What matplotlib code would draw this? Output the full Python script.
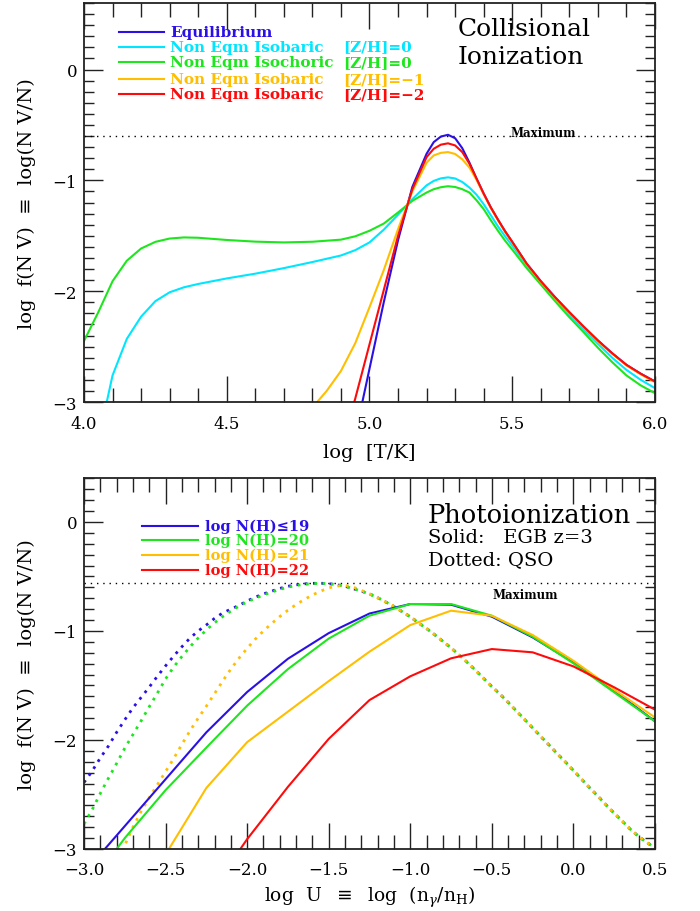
#!/usr/bin/env python3
"""
N V ionization fraction: collisional (top) and photoionization (bottom) panels.
"""

import matplotlib
matplotlib.use("Agg")
import matplotlib.pyplot as plt
import matplotlib.ticker as mticker
import numpy as np

# --------------------------------------------------------------------------- #
# Data: collisional ionization, log f(N V) vs log T
# --------------------------------------------------------------------------- #

LOGT_FULL = [4.00, 4.05, 4.10, 4.15, 4.20, 4.25, 4.30, 4.35, 4.40, 4.50,
             4.60, 4.70, 4.80, 4.90, 4.95, 5.00, 5.05, 5.10, 5.15, 5.20,
             5.225, 5.25, 5.275, 5.30, 5.325, 5.35, 5.375, 5.40, 5.425, 5.45,
             5.475, 5.50, 5.55, 5.60, 5.65, 5.70, 5.75, 5.80, 5.85, 5.90,
             5.95, 6.00]

ISOCHORIC_Z0 = [-2.45, -2.19, -1.91, -1.725, -1.615, -1.555, -1.525, -1.515, -1.518, -1.538,
                -1.553, -1.560, -1.554, -1.535, -1.505, -1.455, -1.39, -1.29, -1.185, -1.11,
                -1.08, -1.062, -1.053, -1.06, -1.08, -1.11, -1.18, -1.26, -1.36, -1.455,
                -1.545, -1.625, -1.79, -1.94, -2.09, -2.235, -2.37, -2.51, -2.64, -2.76,
                -2.85, -2.92]

ISOBARIC_Z0 = [np.nan, -3.35, -2.76, -2.43, -2.23, -2.09, -2.01, -1.965, -1.935, -1.885,
               -1.842, -1.792, -1.737, -1.678, -1.63, -1.56, -1.445, -1.31, -1.17, -1.045,
               -1.005, -0.982, -0.973, -0.983, -1.015, -1.065, -1.13, -1.215, -1.315, -1.415,
               -1.505, -1.59, -1.765, -1.92, -2.065, -2.21, -2.345, -2.475, -2.60, -2.71,
               -2.80, -2.875]

LOGT_PEAK = [4.80, 4.85, 4.90, 4.95, 5.00, 5.05, 5.10, 5.15, 5.20, 5.225,
             5.25, 5.275, 5.30, 5.325, 5.35, 5.375, 5.40, 5.425, 5.45, 5.475,
             5.50, 5.55, 5.60, 5.65, 5.70, 5.75, 5.80, 5.85, 5.90, 5.95,
             6.00]

EQUILIBRIUM = [np.nan, np.nan, np.nan, -3.3, -2.70, -2.10, -1.54, -1.06, -0.76, -0.655,
               -0.605, -0.589, -0.62, -0.71, -0.84, -0.985, -1.12, -1.245, -1.355, -1.46,
               -1.555, -1.75, -1.91, -2.055, -2.19, -2.32, -2.445, -2.56, -2.665, -2.745,
               -2.815]

ISOBARIC_ZM1 = [-3.05, -2.90, -2.72, -2.47, -2.145, -1.81, -1.44, -1.10, -0.84, -0.775,
                -0.752, -0.745, -0.762, -0.81, -0.885, -0.995, -1.125, -1.25, -1.36, -1.465,
                -1.56, -1.755, -1.915, -2.06, -2.195, -2.325, -2.45, -2.565, -2.67, -2.75,
                -2.82]

ISOBARIC_ZM2 = [np.nan, np.nan, -3.42, -2.97, -2.48, -1.99, -1.50, -1.08, -0.79, -0.715,
                -0.678, -0.666, -0.685, -0.745, -0.85, -0.985, -1.12, -1.245, -1.355, -1.46,
                -1.555, -1.75, -1.91, -2.055, -2.19, -2.32, -2.445, -2.56, -2.665, -2.745,
                -2.815]

COLL_MAX = -0.60

# --------------------------------------------------------------------------- #
# Data: photoionization, log f(N V) vs log U
# --------------------------------------------------------------------------- #

LOGU_EGB = [-3.0, -2.75, -2.5, -2.25, -2.0, -1.75, -1.5, -1.25, -1.0, -0.75,
            -0.5, -0.25, 0.0, 0.25, 0.5]

EGB_NH19 = [-3.22, -2.79, -2.36, -1.93, -1.56, -1.255, -1.02, -0.84, -0.753, -0.759,
            -0.869, -1.059, -1.288, -1.548, -1.829]
EGB_NH20 = [-3.40, -2.90, -2.46, -2.07, -1.685, -1.35, -1.07, -0.86, -0.753, -0.753,
            -0.86, -1.053, -1.297, -1.563, -1.829]
EGB_NH21 = [np.nan, np.nan, -3.05, -2.44, -2.02, -1.74, -1.46, -1.19, -0.946, -0.814,
            -0.86, -1.037, -1.273, -1.539, -1.793]
EGB_NH22 = [np.nan, np.nan, np.nan, -3.45, -2.91, -2.43, -1.99, -1.634, -1.416, -1.251,
            -1.166, -1.196, -1.325, -1.517, -1.722]

# QSO spectrum: rising branches differ, falling branch is shared
LOGU_QSO_RISE = [-3.00, -2.95, -2.90, -2.85, -2.80, -2.75, -2.70, -2.65, -2.60, -2.55,
                 -2.50, -2.45, -2.40, -2.35, -2.30, -2.25, -2.20, -2.15, -2.10, -2.05,
                 -2.00, -1.95, -1.90, -1.85, -1.80, -1.75, -1.70, -1.65, -1.60, -1.55,
                 -1.50]
QSO_NH19_RISE = [-2.39, -2.285, -2.165, -2.055, -1.93, -1.815, -1.705, -1.61, -1.515, -1.415,
                 -1.32, -1.23, -1.145, -1.065, -1.00, -0.945, -0.885, -0.835, -0.80, -0.765,
                 -0.725, -0.69, -0.66, -0.635, -0.61, -0.59, -0.577, -0.568, -0.563, -0.562,
                 -0.566]
QSO_NH20_RISE = [-2.77, -2.64, -2.49, -2.35, -2.215, -2.075, -1.95, -1.825, -1.695, -1.57,
                 -1.44, -1.33, -1.235, -1.145, -1.065, -0.99, -0.925, -0.868, -0.818, -0.772,
                 -0.733, -0.70, -0.67, -0.643, -0.619, -0.598, -0.583, -0.572, -0.566, -0.563,
                 -0.566]

LOGU_QSO21_RISE = [-2.80, -2.75, -2.70, -2.65, -2.60, -2.55, -2.50, -2.45, -2.40, -2.35,
                   -2.30, -2.25, -2.20, -2.15, -2.10, -2.05, -2.00, -1.95, -1.90, -1.85,
                   -1.80, -1.75, -1.70, -1.65, -1.60, -1.55, -1.50, -1.45, -1.40, -1.35,
                   -1.30]
QSO_NH21_RISE = [-3.12, -2.965, -2.80, -2.655, -2.53, -2.41, -2.29, -2.17, -2.04, -1.915,
                 -1.80, -1.69, -1.575, -1.46, -1.35, -1.25, -1.16, -1.075, -1.0, -0.932,
                 -0.868, -0.81, -0.758, -0.712, -0.67, -0.635, -0.605, -0.588, -0.583, -0.598,
                 -0.628]

LOGU_QSO_FALL = [-1.45, -1.40, -1.35, -1.30, -1.25, -1.20, -1.15, -1.10, -1.05, -1.00,
                 -0.95, -0.90, -0.85, -0.80, -0.75, -0.70, -0.65, -0.60, -0.55, -0.50,
                 -0.45, -0.40, -0.35, -0.30, -0.25, -0.20, -0.15, -0.10, -0.05, 0.00,
                 0.05, 0.10, 0.15, 0.20, 0.25, 0.30, 0.35, 0.40, 0.45, 0.50]
QSO_FALL = [-0.576, -0.59, -0.612, -0.635, -0.66, -0.695, -0.735, -0.775, -0.823, -0.87,
            -0.925, -0.978, -1.035, -1.095, -1.155, -1.222, -1.29, -1.36, -1.435, -1.51,
            -1.58, -1.655, -1.733, -1.81, -1.89, -1.968, -2.045, -2.125, -2.20, -2.28,
            -2.36, -2.44, -2.515, -2.595, -2.672, -2.745, -2.82, -2.885, -2.94, -2.99]

PHOTO_MAX = -0.56

# --------------------------------------------------------------------------- #
# Aesthetics
# --------------------------------------------------------------------------- #

BLUE = "#2a10e6"
CYAN = "#00e6ff"
GREEN = "#1ee61e"
ORANGE = "#ffbf00"
RED = "#ff0a0a"

LW = 1.5
DOT = (0, (1, 2))
MINUS = "\u2212"

plt.rcParams["font.family"] = ["DejaVu Serif"]
plt.rcParams["mathtext.fontset"] = "dejavuserif"


def _fmt_x(v, pos):
    s = f"{v:.1f}"
    return "0.0" if s == "-0.0" else s.replace("-", MINUS)


def _fmt_y(v, pos):
    return "0" if abs(v) < 1e-9 else f"{MINUS}{abs(v):.0f}"


def _style_axes(ax, ylim):
    ax.set_ylim(*ylim)
    ax.xaxis.set_major_locator(mticker.MultipleLocator(0.5))
    ax.xaxis.set_minor_locator(mticker.MultipleLocator(0.1))
    ax.xaxis.set_major_formatter(mticker.FuncFormatter(_fmt_x))
    ax.yaxis.set_major_locator(mticker.MultipleLocator(1))
    ax.yaxis.set_minor_locator(mticker.MultipleLocator(0.1))
    ax.yaxis.set_major_formatter(mticker.FuncFormatter(_fmt_y))
    ax.tick_params(axis="both", which="both", direction="in",
                   top=True, right=True, width=1.0, color="#222222",
                   labelsize=12)
    ax.tick_params(axis="x", which="major", length=19, pad=9)
    ax.tick_params(axis="x", which="minor", length=10)
    ax.tick_params(axis="y", which="major", length=14, pad=5)
    ax.tick_params(axis="y", which="minor", length=7)
    for sp in ax.spines.values():
        sp.set_linewidth(1.3)
        sp.set_color("#222222")
    ax.set_ylabel("log  f(N V)  \u2261  log(N V/N)", fontsize=14)
    ax.yaxis.set_label_coords(-0.084, 0.5)


def _legend_rows(ax, rows, x0, x1, xt, ys, size, xcol=None):
    for (color, text, extra), y in zip(rows, ys):
        ax.plot([x0, x1], [y, y], color=color, lw=LW,
                transform=ax.transAxes, clip_on=False)
        ax.text(xt, y, text, color=color, fontsize=size, fontweight="bold",
                ha="left", va="center", transform=ax.transAxes)
        if extra:
            ax.text(xcol, y, extra, color=color, fontsize=size, fontweight="bold",
                    ha="left", va="center", transform=ax.transAxes)


fig = plt.figure(figsize=(7.0, 9.12), dpi=100)

# --------------------------------------------------------------------------- #
# Top panel: collisional ionization
# --------------------------------------------------------------------------- #

ax1 = fig.add_axes([0.12, 0.5581, 0.8157, 0.4375])
ax1.set_xlim(4.0, 6.0)

ax1.axhline(COLL_MAX, color="black", lw=1.0, ls=(0, (1, 3.5)))
ax1.plot(LOGT_PEAK, EQUILIBRIUM, color=BLUE, lw=LW)
ax1.plot(LOGT_FULL, ISOBARIC_Z0, color=CYAN, lw=LW)
ax1.plot(LOGT_FULL, ISOCHORIC_Z0, color=GREEN, lw=LW)
ax1.plot(LOGT_PEAK, ISOBARIC_ZM1, color=ORANGE, lw=LW)
ax1.plot(LOGT_PEAK, ISOBARIC_ZM2, color=RED, lw=LW)

_style_axes(ax1, (-3.0, 0.6))
ax1.set_xlabel("log  [T/K]", fontsize=14)
ax1.xaxis.set_label_coords(0.5, -0.103)

ax1.text(5.608, COLL_MAX + 0.035, "Maximum", fontsize=8.5, fontweight="bold",
         ha="center", va="center")
ax1.text(0.655, 0.937, "Collisional", fontsize=18, ha="left", va="center",
         transform=ax1.transAxes)
ax1.text(0.655, 0.867, "Ionization", fontsize=18, ha="left", va="center",
         transform=ax1.transAxes)

coll_rows = [
    (BLUE, "Equilibrium", None),
    (CYAN, "Non Eqm Isobaric", "[Z/H]=0"),
    (GREEN, "Non Eqm Isochoric", "[Z/H]=0"),
    (ORANGE, "Non Eqm Isobaric", "[Z/H]=" + MINUS + "1"),
    (RED, "Non Eqm Isobaric", "[Z/H]=" + MINUS + "2"),
]
_legend_rows(ax1, coll_rows, 0.0613, 0.140, 0.151,
             [0.928, 0.891, 0.853, 0.810, 0.771], 11, xcol=0.454)

# --------------------------------------------------------------------------- #
# Bottom panel: photoionization
# --------------------------------------------------------------------------- #

ax2 = fig.add_axes([0.12, 0.0680, 0.8157, 0.4064])
ax2.set_xlim(-3.0, 0.5)

ax2.axhline(PHOTO_MAX, color="black", lw=1.0, ls=(0, (1, 3.5)))

ax2.plot(LOGU_QSO_RISE + LOGU_QSO_FALL, QSO_NH19_RISE + QSO_FALL,
         color=BLUE, lw=2.0, ls=DOT)
ax2.plot(LOGU_QSO_RISE + LOGU_QSO_FALL, QSO_NH20_RISE + QSO_FALL,
         color=GREEN, lw=2.0, ls=DOT)
ax2.plot(LOGU_QSO21_RISE + LOGU_QSO_FALL[4:], QSO_NH21_RISE + QSO_FALL[4:],
         color=ORANGE, lw=2.0, ls=(1.5, (1, 2)))

ax2.plot(LOGU_EGB, EGB_NH19, color=BLUE, lw=LW)
ax2.plot(LOGU_EGB, EGB_NH20, color=GREEN, lw=LW)
ax2.plot(LOGU_EGB, EGB_NH21, color=ORANGE, lw=LW)
ax2.plot(LOGU_EGB, EGB_NH22, color=RED, lw=LW)

_style_axes(ax2, (-3.0, 0.4))
ax2.set_xlabel(r"log  U  $\equiv$  log  (n$_\gamma$/n$_{\rm H}$)", fontsize=13.5)
ax2.xaxis.set_label_coords(0.5, -0.093)

ax2.text(-0.296, PHOTO_MAX - 0.11, "Maximum", fontsize=8.5, fontweight="bold",
         ha="center", va="center")
ax2.text(0.602, 0.902, "Photoionization", fontsize=18.5, ha="left", va="center",
         transform=ax2.transAxes)
ax2.text(0.602, 0.842, "Solid:   EGB z=3", fontsize=14, ha="left", va="center",
         transform=ax2.transAxes)
ax2.text(0.602, 0.782, "Dotted: QSO", fontsize=14, ha="left", va="center",
         transform=ax2.transAxes)

photo_rows = [
    (BLUE, "log N(H)\u226419", None),
    (GREEN, "log N(H)=20", None),
    (ORANGE, "log N(H)=21", None),
    (RED, "log N(H)=22", None),
]
_legend_rows(ax2, photo_rows, 0.101, 0.200, 0.212,
             [0.8724, 0.833, 0.7932, 0.7536], 10.5)

fig.savefig("out.png", dpi=100)
